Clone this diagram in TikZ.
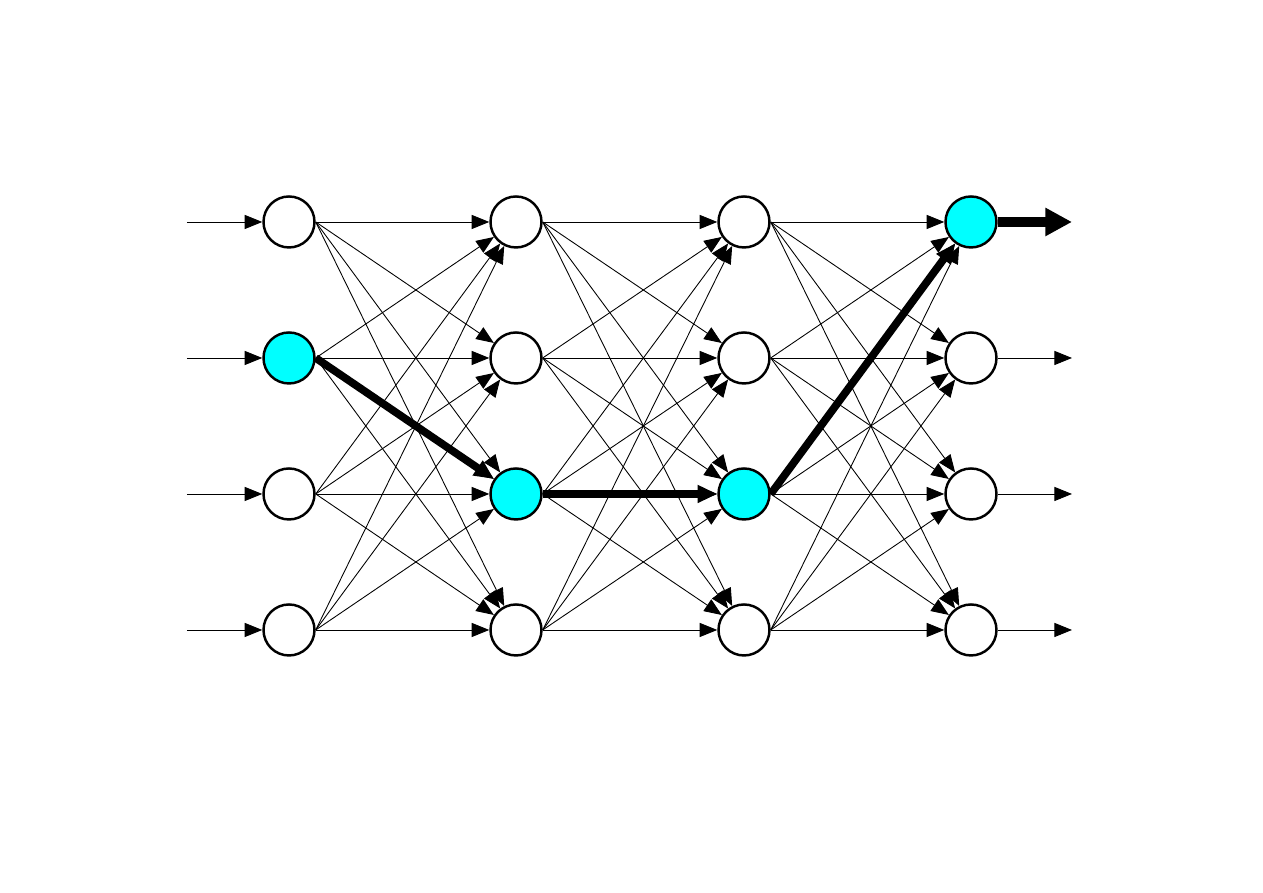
\documentclass[tikz,border=0pt]{standalone}
\usepackage{tikz}
\usetikzlibrary{arrows.meta, backgrounds}
\definecolor{hotcyan}{RGB}{0,255,255}

\begin{document}
\begin{tikzpicture}[
    neuron/.style={circle, draw=black, line width=0.7pt, minimum size=5.1mm, inner sep=0pt},
    link/.style={line width=0.25pt, -{Triangle[length=5.0pt,width=4.0pt]}},
    route/.style={line width=2.2pt, -{Triangle[length=5.6pt,width=4.8pt]}},
    outroute/.style={line width=2.6pt, -{Triangle[length=7.6pt,width=7.6pt]}}
]
\useasboundingbox (0,0) rectangle (12.63,8.93);

% layers of neurons, highlighted row given per column
\foreach \c/\x/\hl in {1/2.89/2, 2/5.16/3, 3/7.44/3, 4/9.71/1} {
  \foreach \r/\y in {1/6.71, 2/5.35, 3/3.99, 4/2.63} {
    \ifnum\r=\hl \def\fc{hotcyan}\else\def\fc{white}\fi
    \node (n\c\r) [neuron, fill=\fc] at (\x,\y) {};
  }
}

% inputs and outputs
\foreach \r/\y in {1/6.71, 2/5.35, 3/3.99, 4/2.63} {
  \coordinate (in\r) at (1.87,\y);
  \coordinate (out\r) at (10.72,\y);
}

\begin{scope}[on background layer]
\foreach \r in {1,...,4}
  \draw [link] (in\r) -- (n1\r);
\foreach \r in {2,3,4}
  \draw [link] (n4\r) -- (out\r);

% full connections between neighbouring layers
\foreach \c/\d in {1/2, 2/3, 3/4}
  \foreach \r in {1,...,4}
    \foreach \s in {1,...,4}
      \draw [link] (n\c\r.east) -- (n\d\s);

% winning route
\draw [route] (n12.east) -- (n23);
\draw [route] (n23.east) -- (n33);
\draw [route] (n33.east) -- (n41);
\draw [outroute] (n41.east) -- (out1);
\end{scope}

\end{tikzpicture}
\end{document}
